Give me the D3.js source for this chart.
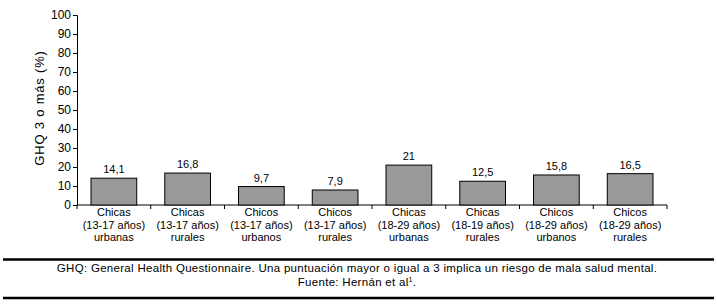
<!DOCTYPE html>
<html>
<head>
<meta charset="utf-8">
<script src="https://d3js.org/d3.v7.min.js"></script>
<style>
  body { margin: 0; background: #fff; }
  text { font-family: "Liberation Sans", Arial, sans-serif; }
</style>
</head>
<body>
<script>
// categories, one array per label line
const line1 = ["Chicas", "Chicas", "Chicos", "Chicos", "Chicas", "Chicas", "Chicos", "Chicos"];
const line2 = ["(13-17 años)", "(13-17 años)", "(13-17 años)", "(13-17 años)", "(18-29 años)", "(18-19 años)", "(18-29 años)", "(18-29 años)"];
const line3 = ["urbanas", "rurales", "urbanos", "rurales", "urbanas", "rurales", "urbanos", "rurales"];
const values = [14.1, 16.8, 9.7, 7.9, 21, 12.5, 15.8, 16.5];
const valueLabels = ["14,1", "16,8", "9,7", "7,9", "21", "12,5", "15,8", "16,5"];
const yTicks = [0, 10, 20, 30, 40, 50, 60, 70, 80, 90, 100];

const W = 717, H = 306;
const margin = {top: 15, right: 50, bottom: 101, left: 77};
const width = W - margin.left - margin.right,
      height = H - margin.top - margin.bottom;

const root = d3.select("body").append("svg")
    .attr("width", W)
    .attr("height", H);

const svg = root.append("g")
    .attr("transform", `translate(${margin.left},${margin.top})`);

const idx = d3.range(values.length);

const x = d3.scaleBand()
    .domain(idx)
    .range([0, width])
    .paddingInner(0.38)
    .paddingOuter(0.19);

const y = d3.scaleLinear()
    .domain([0, 100])
    .range([height, 0]);

// y axis
const yAxis = svg.append("g")
    .call(d3.axisLeft(y).tickValues(yTicks).tickSize(4).tickPadding(2));
yAxis.select(".domain").attr("stroke", "#000");
yAxis.selectAll("text").attr("font-size", 12).attr("fill", "#000");

// x axis: ticks at band boundaries
svg.append("line")
    .attr("x1", 0).attr("x2", width)
    .attr("y1", height).attr("y2", height)
    .attr("stroke", "#000");
svg.selectAll(".xtick")
  .data(d3.range(values.length + 1))
  .enter().append("line")
    .attr("x1", d => d * width / values.length)
    .attr("x2", d => d * width / values.length)
    .attr("y1", height).attr("y2", height + 4)
    .attr("stroke", "#000");

// bars
svg.selectAll(".bar")
  .data(idx)
  .enter().append("rect")
    .attr("x", d => x(d))
    .attr("y", d => y(values[d]))
    .attr("width", x.bandwidth())
    .attr("height", d => height - y(values[d]))
    .attr("fill", "#999999")
    .attr("stroke", "#000")
    .attr("stroke-width", 1);

// value labels
svg.selectAll(".val")
  .data(idx)
  .enter().append("text")
    .attr("x", d => x(d) + x.bandwidth() / 2)
    .attr("y", d => y(values[d]) - 5)
    .attr("text-anchor", "middle")
    .attr("font-size", 11)
    .text(d => valueLabels[d]);

// category labels, one text per line
[line1, line2, line3].forEach((lines, i) => {
  svg.selectAll(".cat" + i)
    .data(idx)
    .enter().append("text")
      .attr("x", d => x(d) + x.bandwidth() / 2)
      .attr("y", height + 11 + i * 12.5)
      .attr("text-anchor", "middle")
      .attr("font-size", 11)
      .text(d => lines[d]);
});

// y axis title
root.append("text")
    .attr("transform", `translate(44,${margin.top + height / 2 - 2}) rotate(-90)`)
    .attr("text-anchor", "middle")
    .attr("font-size", 13)
    .attr("letter-spacing", 0.8)
    .text("GHQ 3 o más (%)");

// footer
root.append("line")
    .attr("x1", 3).attr("x2", 714).attr("y1", 259.5).attr("y2", 259.5)
    .attr("stroke", "#000").attr("stroke-width", 2.5);
root.append("line")
    .attr("x1", 3).attr("x2", 714).attr("y1", 298).attr("y2", 298)
    .attr("stroke", "#000").attr("stroke-width", 2.5);
root.append("text")
    .attr("x", 357).attr("y", 272)
    .attr("text-anchor", "middle")
    .attr("font-size", 11.5)
    .attr("letter-spacing", 0.3)
    .text("GHQ: General Health Questionnaire. Una puntuación mayor o igual a 3 implica un riesgo de mala salud mental.");
const f2 = root.append("text")
    .attr("x", 357).attr("y", 286)
    .attr("text-anchor", "middle")
    .attr("font-size", 11.5)
    .attr("letter-spacing", 0.3);
f2.append("tspan").text("Fuente: Hernán et al");
f2.append("tspan").attr("font-size", 7).attr("dy", -4).text("1");
f2.append("tspan").attr("dy", 4).text(".");
</script>
</body>
</html>
